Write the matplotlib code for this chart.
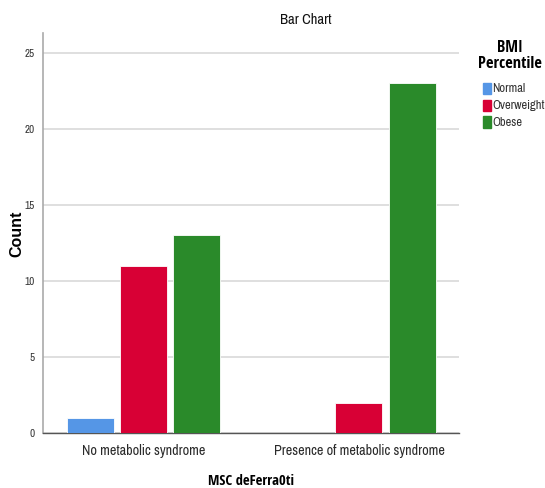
import matplotlib
matplotlib.use("Agg")
import matplotlib.pyplot as plt
import numpy as np

categories = ["No metabolic syndrome", "Presence of metabolic syndrome"]
series_names = ["Normal", "Overweight", "Obese"]
normal = [1, 0]
overweight = [11, 2]
obese = [13, 23]
colors = ["#5596e6", "#d80035", "#2a8a2a"]
yticks = [0, 5, 10, 15, 20, 25]

plt.rcParams['font.family'] = ['Archivo Narrow', 'Liberation Sans', 'DejaVu Sans']
bold_family = ['Open Sans Condensed', 'Liberation Sans', 'DejaVu Sans']

fig = plt.figure(figsize=(5.45, 4.88), dpi=100)
ax = fig.add_axes([43/545, 1-433/488, (459-43)/545, (433-33)/488])

x = np.arange(len(categories))
step = 0.246
width = 0.218
for i, (vals, c) in enumerate(zip([normal, overweight, obese], colors)):
    xs = x + (i - 1) * step
    for xx, v in zip(xs, vals):
        if v > 0:
            ax.bar(xx, v, width=width, color=c, edgecolor='white', linewidth=0.6, zorder=3)

ax.set_xlim(-0.466, 1.464)
ax.set_ylim(0, 26.3)
ax.set_yticks(yticks)
ax.set_yticklabels([str(t) for t in yticks], fontsize=8, color='#333333')
ax.set_xticks(x)
ax.set_xticklabels(categories, fontsize=10.2, color='#2a2a2a')
ax.tick_params(axis='both', length=0)
ax.tick_params(axis='y', pad=6)
ax.tick_params(axis='x', pad=8)
ax.yaxis.grid(True, color='#d9d9d9', linewidth=1.2, zorder=0)
ax.set_axisbelow(True)
for s in ['top', 'right']:
    ax.spines[s].set_visible(False)
ax.spines['left'].set_color('#aaaaaa')
ax.spines['bottom'].set_color('#555555')
ax.spines['left'].set_linewidth(1.2)
ax.spines['bottom'].set_linewidth(1.0)

fig.text(17/545, 1-234/488, "Count", rotation=90, fontsize=11.5, fontweight='bold',
         family=['Liberation Sans', 'DejaVu Sans'], ha='center', va='center')
fig.text(251/545, 1-481/488, "MSC deFerra0ti", fontsize=10.5, fontweight='bold',
         family=bold_family, ha='center', va='center')
fig.text(306/545, 1-20/488, "Bar Chart", fontsize=10.5, ha='center', va='center',
         color='#111111')

fig.text(510/545, 1-56/488, "BMI\nPercentile", fontsize=11.8, fontweight='bold',
         family=bold_family, ha='center', va='center', linespacing=1.0)
for j, (name, c) in enumerate(zip(series_names, colors)):
    yy = 1 - (89 + j * 16.5) / 488
    fig.patches.append(plt.Rectangle((483/545, yy - 5.5/488), 8/545, 11/488,
                                     transform=fig.transFigure, color=c))
    fig.text(492/545, yy, name, fontsize=9, ha='left', va='center', color='#333333')

fig.savefig("out.png", dpi=100)
